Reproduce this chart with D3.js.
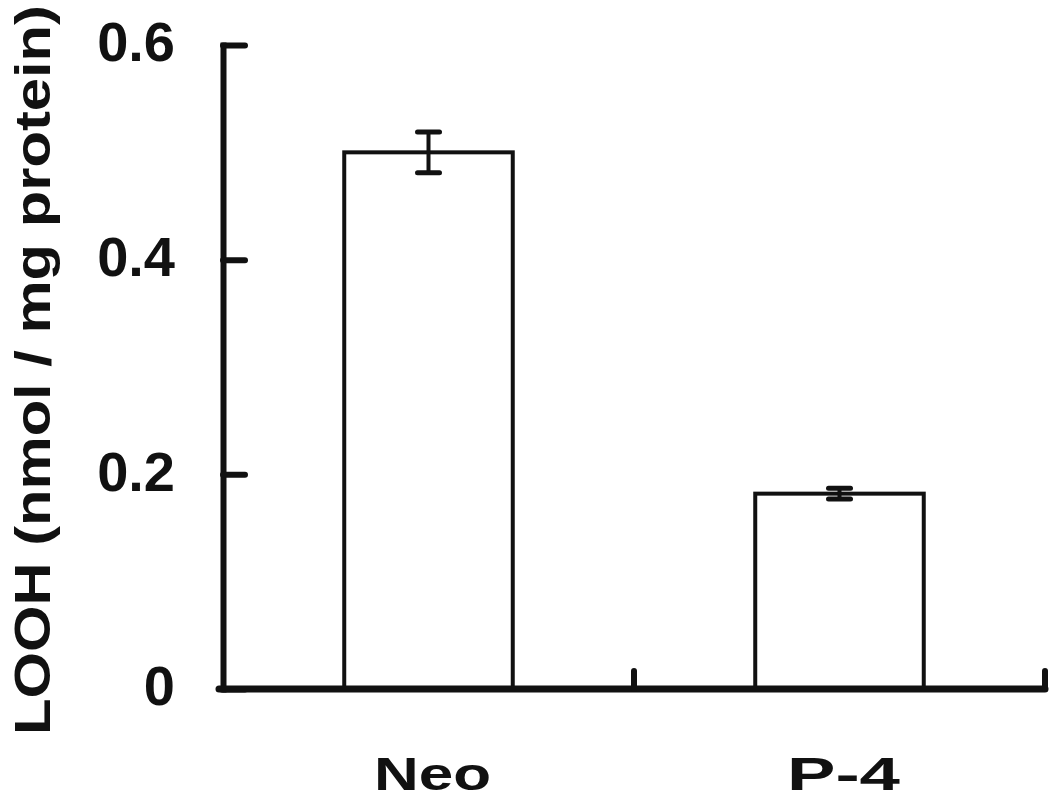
<!DOCTYPE html>
<html>
<head>
<meta charset="utf-8">
<script src="https://cdn.jsdelivr.net/npm/d3@7"></script>
<style>
  html, body { margin: 0; padding: 0; background: #fff; }
  svg { display: block; }
  text { font-family: "Liberation Sans", Arial, Helvetica, sans-serif; font-weight: bold; fill: #111; }
</style>
</head>
<body>
<svg id="chart" width="1050" height="804"></svg>
<script>
// ---- data ----
const categories = ["Neo", "P-4"];
const values = [0.50, 0.182];
const errors = [0.019, 0.005];
const yTicks = [0, 0.2, 0.4, 0.6];
const yTickLabels = ["0", "0.2", "0.4", "0.6"];
const yLabel = "LOOH (nmol / mg protein)";

// ---- layout ----
const svg = d3.select("#chart");
const axisX = 223, axisY = 689, topY = 45, rightX = 1045;
const ink = "#111";

const x = d3.scaleBand().domain(categories).range([axisX, rightX])
  .paddingInner(0.59).paddingOuter(0.295);
const y = d3.scaleLinear().domain([0, 0.6]).range([axisY, topY]);

// bars
svg.append("g").selectAll("rect").data(categories).join("rect")
  .attr("x", d => x(d))
  .attr("y", (d, i) => y(values[i]))
  .attr("width", x.bandwidth())
  .attr("height", (d, i) => y(0) - y(values[i]))
  .attr("fill", "#fff").attr("stroke", ink).attr("stroke-width", 4);

// error bars
const eb = svg.append("g").attr("stroke", ink).attr("stroke-linecap", "round");
categories.forEach((c, i) => {
  const cx = x(c) + x.bandwidth() / 2;
  const hi = y(values[i] + errors[i]), lo = y(values[i] - errors[i]);
  eb.append("line").attr("x1", cx).attr("x2", cx).attr("y1", hi).attr("y2", lo).attr("stroke-width", 4);
  [hi, lo].forEach(yy => eb.append("line").attr("x1", cx - 11).attr("x2", cx + 11)
    .attr("y1", yy).attr("y2", yy).attr("stroke-width", 5));
});

// y axis
const yAxis = svg.append("g").attr("transform", `translate(${axisX},0)`)
  .call(d3.axisLeft(y).tickValues(yTicks).tickFormat((d, i) => yTickLabels[i])
    .tickSizeInner(-22).tickSizeOuter(0).tickPadding(48));
yAxis.select(".domain").attr("stroke", ink).attr("stroke-width", 6).attr("stroke-linecap", "square");
yAxis.selectAll(".tick line").attr("stroke", ink).attr("stroke-width", 6).attr("stroke-linecap", "round");
yAxis.selectAll(".tick text").attr("font-size", 56).attr("dy", "0.28em")
  .attr("font-family", null).style("fill", ink);

// x axis line with boundary ticks
const xg = svg.append("g").attr("stroke", ink).attr("stroke-linecap", "round");
xg.append("line").attr("x1", axisX - 4).attr("x2", rightX).attr("y1", axisY).attr("y2", axisY)
  .attr("stroke-width", 7);
const half = x.step() * x.paddingInner() / 2;
categories.forEach(c => {
  const bx = Math.min(x(c) + x.bandwidth() + half, rightX);
  xg.append("line").attr("x1", bx).attr("x2", bx).attr("y1", axisY).attr("y2", axisY - 18)
    .attr("stroke-width", 6);
});

// x category labels
const xAxis = svg.append("g").attr("transform", `translate(0,${axisY})`)
  .call(d3.axisBottom(x).tickSize(0).tickPadding(0));
xAxis.select(".domain").remove();
const xLabelWidths = [117, 113];
xAxis.selectAll(".tick text")
  .attr("y", 101).attr("dy", 0)
  .attr("font-size", 46).attr("font-family", null).style("fill", ink)
  .attr("transform", "translate(4,0)")
  .attr("textLength", (d, i) => xLabelWidths[i]).attr("lengthAdjust", "spacingAndGlyphs");

// y label
svg.append("text")
  .attr("transform", "translate(50,370) rotate(-90)")
  .attr("text-anchor", "middle")
  .attr("font-size", 50)
  .attr("textLength", 730).attr("lengthAdjust", "spacingAndGlyphs")
  .text(yLabel);
</script>
</body>
</html>
